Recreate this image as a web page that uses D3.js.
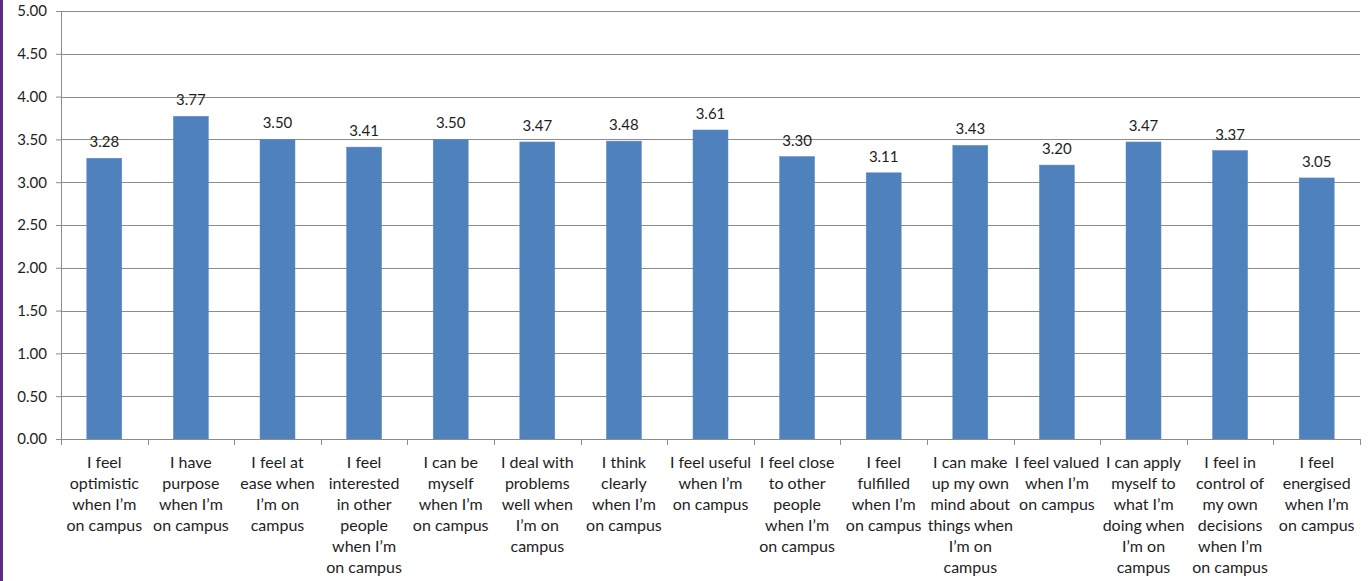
<!DOCTYPE html>
<html>
<head>
<meta charset="utf-8">
<script src="https://cdn.jsdelivr.net/npm/d3@7"></script>
<style>
  html, body { margin: 0; padding: 0; background: #fff; }
  svg { display: block; font-family: Lato, "Open Sans", sans-serif; }
</style>
</head>
<body>
<svg id="chart" width="1369" height="581"></svg>
<script>
// Statement labels, already broken into display lines
const categories = [
  ["I feel", "optimistic", "when I\u2019m", "on campus"],
  ["I have", "purpose", "when I\u2019m", "on campus"],
  ["I feel at", "ease when", "I\u2019m on", "campus"],
  ["I feel", "interested", "in other", "people", "when I\u2019m", "on campus"],
  ["I can be", "myself", "when I\u2019m", "on campus"],
  ["I deal with", "problems", "well when", "I\u2019m on", "campus"],
  ["I think", "clearly", "when I\u2019m", "on campus"],
  ["I feel useful", "when I\u2019m", "on campus"],
  ["I feel close", "to other", "people", "when I\u2019m", "on campus"],
  ["I feel", "fulfilled", "when I\u2019m", "on campus"],
  ["I can make", "up my own", "mind about", "things when", "I\u2019m on", "campus"],
  ["I feel valued", "when I\u2019m", "on campus"],
  ["I can apply", "myself to", "what I\u2019m", "doing when", "I\u2019m on", "campus"],
  ["I feel in", "control of", "my own", "decisions", "when I\u2019m", "on campus"],
  ["I feel", "energised", "when I\u2019m", "on campus"]
];

// Mean score per statement
const scores = [3.28, 3.77, 3.50, 3.41, 3.50, 3.47, 3.48, 3.61, 3.30, 3.11, 3.43, 3.20, 3.47, 3.37, 3.05];

// Value axis ticks
const yTicks = [0, 0.5, 1, 1.5, 2, 2.5, 3, 3.5, 4, 4.5, 5];

const svg = d3.select("#chart");
const margin = { left: 61, right: 9, top: 11, bottom: 142 };
const W = 1369, H = 581;
const plotW = W - margin.left - margin.right;
const plotH = H - margin.top - margin.bottom;

// Left frame stripe
svg.append("rect").attr("x", 0).attr("y", 0).attr("width", 3).attr("height", H).attr("fill", "#5e2b86");

const g = svg.append("g").attr("transform", `translate(${margin.left},${margin.top})`);

const idx = d3.range(categories.length);
const x = d3.scaleBand().domain(idx).range([0, plotW]).paddingInner(0.596).paddingOuter(0.298);
const xEdge = d3.scaleLinear().domain([0, categories.length]).range([0, plotW]);
const y = d3.scaleLinear().domain([0, 5]).range([plotH, 0]);

// Gridlines
g.append("g").selectAll("line").data(yTicks.filter(t => t > 0)).join("line")
  .attr("x1", 0).attr("x2", plotW)
  .attr("y1", d => Math.round(y(d)) + 0.5).attr("y2", d => Math.round(y(d)) + 0.5)
  .attr("stroke", "#8c8c8c").attr("stroke-width", 1);

// Y axis
const yAxis = g.append("g")
  .call(d3.axisLeft(y).tickValues(yTicks).tickFormat(d3.format(".2f")).tickSize(5).tickSizeOuter(0));
yAxis.select(".domain").attr("stroke", "#8c8c8c");
yAxis.selectAll(".tick line").attr("stroke", "#8c8c8c");
yAxis.selectAll(".tick text").attr("x", -14).attr("fill", "#1e1e1e")
  .style("font-size", "15px").style("font-family", "Lato, sans-serif");

// Bars
g.append("g").selectAll("rect").data(scores).join("rect")
  .attr("x", (d, i) => x(i))
  .attr("y", d => y(d))
  .attr("width", x.bandwidth())
  .attr("height", d => plotH - y(d))
  .attr("fill", "#4f81bd")
  .attr("stroke", "#5b8cc6").attr("stroke-width", 0.5);

// Value labels
g.append("g").selectAll("text").data(scores).join("text")
  .attr("x", (d, i) => x(i) + x.bandwidth() / 2)
  .attr("y", d => y(d) - 11)
  .attr("text-anchor", "middle")
  .attr("fill", "#1e1e1e")
  .style("font-size", "15px")
  .text(d => d.toFixed(2));

// Category axis: baseline with boundary ticks
const base = g.append("g").attr("transform", `translate(0,${plotH})`);
base.append("line").attr("x1", 0).attr("x2", plotW).attr("y1", 0.5).attr("y2", 0.5).attr("stroke", "#8c8c8c");
base.selectAll("line.tk").data(d3.range(categories.length + 1)).join("line")
  .attr("class", "tk")
  .attr("x1", d => Math.round(xEdge(d)) + 0.5).attr("x2", d => Math.round(xEdge(d)) + 0.5)
  .attr("y1", 0).attr("y2", 6).attr("stroke", "#8c8c8c");

const labels = base.selectAll("text").data(categories).join("text")
  .attr("text-anchor", "middle")
  .attr("fill", "#1e1e1e")
  .style("font-size", "16px")
  .attr("transform", (d, i) => `translate(${x(i) + x.bandwidth() / 2},0)`);
labels.selectAll("tspan").data(d => d).join("tspan")
  .attr("x", 0)
  .attr("y", (d, j) => 29 + j * 21)
  .text(d => d);
</script>
</body>
</html>
